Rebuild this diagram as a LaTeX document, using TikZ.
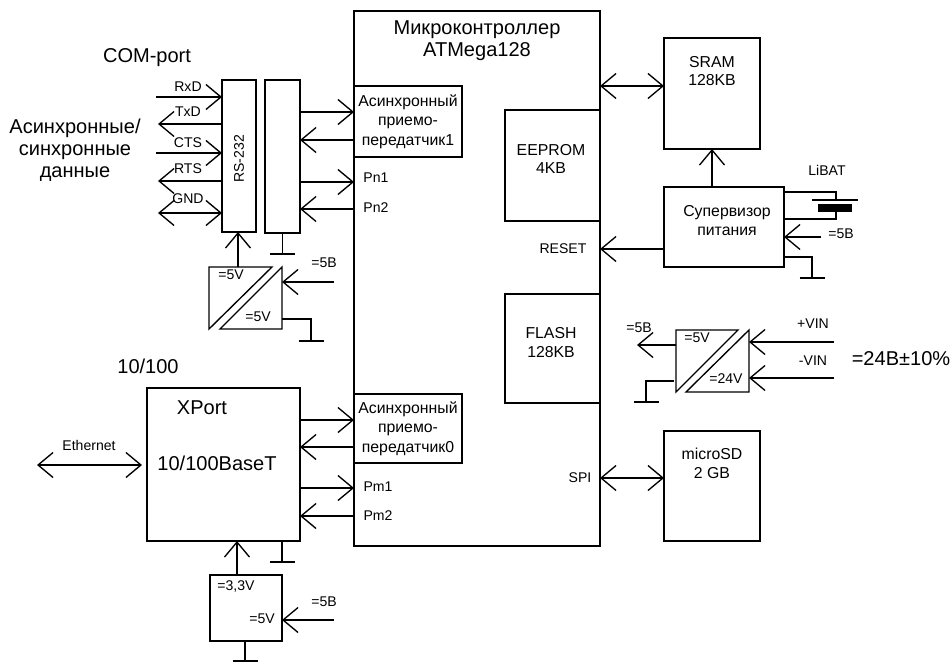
\documentclass[tikz,border=0pt]{standalone}
\usepackage{fontspec}
\setmainfont{Liberation Sans}
\usetikzlibrary{arrows.meta,positioning}
\newcommand{\gnd}[1]{\draw (#1) ++(-12.5,0) -- ++(25,0);}

\begin{document}
\begin{tikzpicture}[x=0.2mm,y=-0.2mm,line width=0.27mm,
box/.style={draw,align=center,inner sep=0pt,outer sep=0pt,minimum width=#1*0.2mm},
flow/.style={-{Straight Barb[length=3mm,width=5mm,line width=0.27mm]}},
both/.style={{Straight Barb[length=3mm,width=5mm,line width=0.27mm]}-{Straight Barb[length=3mm,width=5mm,line width=0.27mm]}},
every node/.style={font=\fontsize{8}{11}\selectfont,inner sep=0pt},
big/.style={font=\fontsize{11.4}{12.6}\selectfont,align=center},
mid/.style={font=\fontsize{9}{10.6}\selectfont,align=center}]
\useasboundingbox (0,0) rectangle (951,662);
\node[box=246,minimum height=535*0.2mm] (mcu) at (477,278.5) {};
\node[box=108,minimum height=71*0.2mm,mid,font=\fontsize{9}{11}\selectfont] (usartone) at (408,121.5) {Асинхронный\\приемо-\\передатчик1};
\node[box=108,minimum height=69*0.2mm,mid,font=\fontsize{9}{11}\selectfont] (usartzero) at (408,428.5) {Асинхронный\\приемо-\\передатчик0};
\node[box=95,minimum height=111*0.2mm] (eeprom) at (552.5,165.5) {};
\node[box=95,minimum height=109*0.2mm] (flash) at (552.5,348.5) {};
\node[box=96,minimum height=111*0.2mm] (sram) at (712,93.5) {};
\node[box=120,minimum height=80*0.2mm] (supervisor) at (724,227) {};
\node[box=96,minimum height=110*0.2mm] (microsd) at (712,486) {};
\node[box=34,minimum height=152*0.2mm] (rsdriver) at (239,156) {};
\node[box=35,minimum height=153*0.2mm] (buffer) at (282.5,156.5) {};
\node[box=153,minimum height=153*0.2mm] (xport) at (223.5,464.5) {};
\node[box=72,minimum height=66*0.2mm] (regulator) at (246,608) {};
\node[big] (title) at (477,40.5) {Микроконтроллер\\ATMega128};
\node[mid] (eepromtext) at (551,159) {EEPROM\\4KB};
\node[mid] (flashtext) at (551,342.5) {FLASH\\128KB};
\node[mid] (sramtext) at (712,71) {SRAM\\128KB};
\node[mid] (sdtext) at (712,463.5) {microSD\\2 GB};
\node[mid] (supervisortext) at (727,220.5) {Супервизор\\питания};
\node[big] (comport) at (147,58) {COM-port};
\node[big] (asyncdata) at (75,150) {Асинхронные/\\синхронные\\данные};
\node (rxd) at (188,87) {RxD};
\node (txd) at (188,112) {TxD};
\node (cts) at (188,143) {CTS};
\node (rts) at (188,169) {RTS};
\node (gndlabel) at (188,199) {GND};
\node[rotate=90] (rslabel) at (239,159) {RS-232};
\node (pnone) at (376,178) {Pn1};
\node (pntwo) at (376,208) {Pn2};
\node (pmone) at (378,487) {Pm1};
\node (pmtwo) at (378,516) {Pm2};
\node (reset) at (563,249) {RESET};
\node (spi) at (580,478) {SPI};
\node (libat) at (827,170) {LiBAT};
\node (fivebat) at (841,234) {=5В};
\node (vinplus) at (813,324) {+VIN};
\node (vinminus) at (813,361) {-VIN};
\node[big] (vinrange) at (901,359) {=24В±10\%};
\node (fiveout) at (639,328) {=5В};
\node (convfive) at (697,338) {=5V};
\node (convtf) at (726,379) {=24V};
\node (rsfiveb) at (324,263) {=5В};
\node (rsfivea) at (231,275) {=5V};
\node (rsfivec) at (258,317) {=5V};
\node[big] (speed) at (148,366) {10/100};
\node[big] (xportname) at (202,408) {XPort};
\node[big] (xportbase) at (217,463) {10/100BaseT};
\node (regthree) at (236,586) {=3,3V};
\node (regfive) at (262,619) {=5V};
\node (regsupply) at (324,602) {=5В};
\node (ethlabel) at (89,445) {Ethernet};
\coordinate (rscin) at (282,282);
\coordinate (rscout) at (282,319);
\coordinate (rsctop) at (238,267);
\coordinate (dcout) at (676,345);
\coordinate (dcgnd) at (674,381);
\coordinate (dcplus) at (749,342);
\coordinate (dcminus) at (749,378);
\draw (209,267) -- (272,267) -- (209,329) -- cycle;
\draw (282,267) -- (282,329) -- (220,329) -- cycle;
\draw (676,330) -- (738,330) -- (676,392) -- cycle;
\draw (749,330) -- (749,392) -- (686,392) -- cycle;
\draw[flow] (156,97) -- (rsdriver.west |- 0,97);
\draw[flow] (rsdriver.west |- 0,124) -- (158,124);
\draw[flow] (156,153) -- (rsdriver.west |- 0,153);
\draw[flow] (rsdriver.west |- 0,181) -- (158,181);
\draw[both] (158,213) -- (rsdriver.west |- 0,213);
\draw[flow] (rsctop) -- (rsdriver.south -| rsctop);
\draw[flow] (buffer.east |- 0,112) -- (mcu.west |- 0,112);
\draw[flow] (mcu.west |- 0,140) -- (buffer.east |- 0,140);
\draw[flow] (buffer.east |- 0,182) -- (mcu.west |- 0,182);
\draw[flow] (mcu.west |- 0,209) -- (buffer.east |- 0,209);
\draw (buffer.south) -- ++(0,21) coordinate (buffergnd);
\gnd{buffergnd}
\draw[flow] (334,282) -- (rscin);
\draw (rscout) -| (311,341) coordinate (rscgnd);
\gnd{rscgnd}
\draw[both] (mcu.east |- 0,86) -- (sram.west |- 0,86);
\draw[flow] (supervisor.north -| sram.south) -- (sram.south);
\draw[flow] (supervisor.west |- 0,249) -- (mcu.east |- 0,249);
\draw[both] (mcu.east |- 0,478) -- (microsd.west |- 0,478);
\draw (supervisor.east |- 0,192) -| (836,200) coordinate (batplus);
\draw (812,200) -- (858,200);
\fill (818,204) rectangle (852,212);
\draw (836,212) |- (supervisor.east |- 0,219);
\draw[flow] (821,237) -- (supervisor.east |- 0,237);
\draw (supervisor.east |- 0,257) -| (812,278) coordinate (supgnd);
\gnd{supgnd}
\draw[flow] (dcout) -- (637,345);
\draw (dcgnd) -| (646,402) coordinate (dcgndend);
\gnd{dcgndend}
\draw[flow] (834,342) -- (dcplus);
\draw[flow] (834,378) -- (dcminus);
\draw[both] (37,465) -- (142,465);
\draw[flow] (xport.east |- 0,420) -- (mcu.west |- 0,420);
\draw[flow] (mcu.west |- 0,447) -- (xport.east |- 0,447);
\draw[flow] (xport.east |- 0,488) -- (mcu.west |- 0,488);
\draw[flow] (mcu.west |- 0,516) -- (xport.east |- 0,516);
\draw[flow] (regulator.north -| 237,0) -- (xport.south -| 237,0);
\draw (xport.south -| 282,0) -- ++(0,21) coordinate (xportgnd);
\gnd{xportgnd}
\draw[flow] (334,620) -- (regulator.east |- 0,620);
\draw (regulator.south -| 245,0) -- ++(0,20) coordinate (reggnd);
\gnd{reggnd}
\end{tikzpicture}
\end{document}
